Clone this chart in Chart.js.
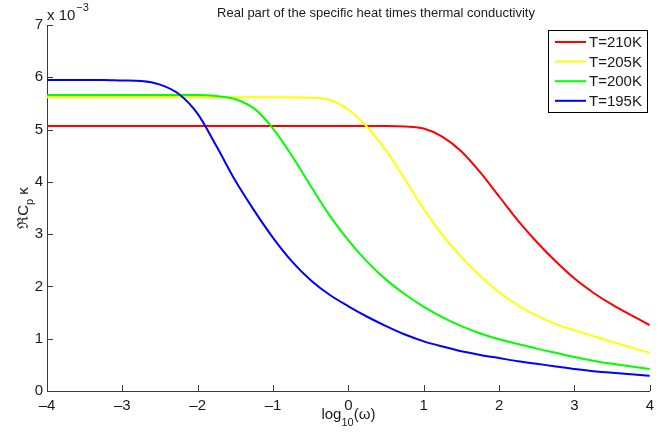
<!DOCTYPE html>
<html>
<head>
<meta charset="utf-8">
<script src="https://cdn.jsdelivr.net/npm/chart.js@4.4.0/dist/chart.umd.min.js"></script>
<style>
  html, body { margin: 0; padding: 0; background: #fff; }
</style>
</head>
<body>
<canvas id="c" width="660" height="435"></canvas>
<script>
// log10(omega) sample positions
var logOmega = [-4, -3.75, -3.5, -3.25, -3, -2.75, -2.5, -2.25, -2, -1.75, -1.5, -1.25, -1, -0.75, -0.5, -0.25,
                0, 0.25, 0.5, 0.75, 1, 1.25, 1.5, 1.75, 2, 2.25, 2.5, 2.75, 3, 3.25, 3.5, 3.75, 4];

// Re(Cp*kappa), in units of 1e-3
var cpk210 = [5.07, 5.07, 5.07, 5.07, 5.07, 5.07, 5.07, 5.07, 5.07, 5.07, 5.07, 5.07, 5.07, 5.07, 5.07, 5.07,
              5.07, 5.07, 5.07, 5.06, 5.02, 4.86, 4.58, 4.18, 3.72, 3.26, 2.85, 2.48, 2.15, 1.88, 1.65, 1.45, 1.26];
var cpk205 = [5.62, 5.62, 5.62, 5.62, 5.62, 5.62, 5.62, 5.62, 5.62, 5.62, 5.62, 5.62, 5.62, 5.62, 5.61, 5.57,
              5.38, 5.05, 4.60, 4.05, 3.48, 2.98, 2.56, 2.20, 1.89, 1.64, 1.44, 1.28, 1.16, 1.05, 0.94, 0.83, 0.73];
var cpk200 = [5.66, 5.66, 5.66, 5.66, 5.66, 5.66, 5.66, 5.66, 5.66, 5.64, 5.58, 5.40, 5.02, 4.50, 3.92, 3.36,
              2.88, 2.47, 2.13, 1.85, 1.61, 1.41, 1.24, 1.10, 0.99, 0.90, 0.81, 0.73, 0.65, 0.58, 0.52, 0.47, 0.42];
var cpk195 = [5.95, 5.95, 5.95, 5.95, 5.94, 5.93, 5.86, 5.68, 5.30, 4.68, 4.02, 3.45, 2.93, 2.48, 2.12, 1.84,
              1.62, 1.42, 1.24, 1.08, 0.95, 0.85, 0.76, 0.69, 0.63, 0.57, 0.52, 0.47, 0.42, 0.38, 0.35, 0.32, 0.29];

var seriesLabels = ['T=210K', 'T=205K', 'T=200K', 'T=195K'];
var seriesColors = ['#ff0000', '#ffff00', '#00ff00', '#0000ff'];
var seriesValues = [cpk210, cpk205, cpk200, cpk195];

var FONT = '"Liberation Sans", Arial, Helvetica, sans-serif';
var AXIS_COLOR = '#3a3a3a';

function toPoints(ys) {
  return ys.map(function (y, i) { return { x: logOmega[i], y: y }; });
}

var datasets = seriesValues.map(function (ys, i) {
  return {
    label: seriesLabels[i],
    data: toPoints(ys),
    borderColor: seriesColors[i],
    backgroundColor: seriesColors[i],
    borderWidth: 2,
    pointRadius: 0,
    cubicInterpolationMode: 'monotone',
    order: seriesValues.length - i   // later temperatures drawn on top
  };
});

// inward tick marks, the exponent note, titles and the boxed legend
var decorations = {
  id: 'decorations',
  afterDraw: function (chart) {
    var ctx = chart.ctx, area = chart.chartArea;
    var xs = chart.scales.x, ys = chart.scales.y;
    ctx.save();

    ctx.strokeStyle = AXIS_COLOR;
    ctx.lineWidth = 1;
    ctx.beginPath();
    xs.ticks.forEach(function (t) {
      var px = Math.round(xs.getPixelForValue(t.value)) + 0.5;
      ctx.moveTo(px, area.bottom);
      ctx.lineTo(px, area.bottom - 6);
    });
    ys.ticks.forEach(function (t) {
      var py = Math.round(ys.getPixelForValue(t.value)) + 0.5;
      ctx.moveTo(area.left, py);
      ctx.lineTo(area.left + 6, py);
    });
    ctx.stroke();

    ctx.fillStyle = '#1a1a1a';
    ctx.textBaseline = 'alphabetic';

    // x 10^-3
    ctx.textAlign = 'left';
    ctx.font = '15px ' + FONT;
    ctx.fillText('x 10', area.left, 20);
    var w = ctx.measureText('x 10').width;
    ctx.font = '11px ' + FONT;
    ctx.fillText('\u22123', area.left + w + 1, 11);

    // title
    ctx.textAlign = 'center';
    ctx.font = '13px ' + FONT;
    ctx.fillText('Real part of the specific heat times thermal conductivity', 376, 17);

    // x-axis label: log10(omega)
    ctx.textAlign = 'left';
    var big = '15px ' + FONT, small = '11px ' + FONT;
    ctx.font = big; var w1 = ctx.measureText('log').width;
    ctx.font = small; var w2 = ctx.measureText('10').width;
    ctx.font = big; var w3 = ctx.measureText('(\u03c9)').width;
    var x0 = (area.left + area.right) / 2 - (w1 + w2 + w3) / 2;
    ctx.font = big; ctx.fillText('log', x0, 419);
    ctx.font = small; ctx.fillText('10', x0 + w1, 426);
    ctx.font = big; ctx.fillText('(\u03c9)', x0 + w1 + w2, 419);

    // y-axis label: Re Cp kappa
    ctx.save();
    ctx.translate(28, 208);
    ctx.rotate(-Math.PI / 2);
    ctx.font = big; var a1 = ctx.measureText('\u211cC').width;
    ctx.font = small; var a2 = ctx.measureText('p').width;
    ctx.font = big; var a3 = ctx.measureText(' \u03ba').width;
    var s = -(a1 + a2 + a3) / 2;
    ctx.font = big; ctx.fillText('\u211cC', s, 0);
    ctx.font = small; ctx.fillText('p', s + a1, 5);
    ctx.font = big; ctx.fillText(' \u03ba', s + a1 + a2, 0);
    ctx.restore();

    // legend box
    var lx = 548.5, ly = 30.5, lw = 99, lh = 82;
    ctx.fillStyle = '#fff';
    ctx.fillRect(lx, ly, lw, lh);
    ctx.strokeStyle = '#000';
    ctx.lineWidth = 1;
    ctx.strokeRect(lx, ly, lw, lh);
    ctx.font = '15px ' + FONT;
    ctx.textBaseline = 'middle';
    chart.data.datasets.forEach(function (ds, i) {
      var yy = 42 + i * 19.6;
      ctx.strokeStyle = ds.borderColor;
      ctx.lineWidth = 2;
      ctx.beginPath();
      ctx.moveTo(555, yy);
      ctx.lineTo(586, yy);
      ctx.stroke();
      ctx.fillStyle = '#1a1a1a';
      ctx.fillText(ds.label, 589, yy + 1);
    });

    ctx.restore();
  }
};

new Chart(document.getElementById('c'), {
  type: 'line',
  data: { datasets: datasets },
  options: {
    responsive: false,
    animation: false,
    layout: { padding: { left: 0, top: 25, right: 4, bottom: 0 } },
    plugins: {
      legend: { display: false },
      tooltip: { enabled: false }
    },
    scales: {
      x: {
        type: 'linear',
        min: -4,
        max: 4,
        grid: { display: false, drawTicks: false },
        border: { display: true, color: AXIS_COLOR, width: 1 },
        ticks: {
          stepSize: 1,
          padding: 6,
          color: '#1a1a1a',
          font: { family: FONT, size: 15 },
          maxRotation: 0,
          callback: function (v) { return v < 0 ? '\u2013' + Math.abs(v) : String(v); }
        },
        afterFit: function (scale) { scale.height = 44; }
      },
      y: {
        type: 'linear',
        min: 0,
        max: 7,
        grid: { display: false, drawTicks: false },
        border: { display: true, color: AXIS_COLOR, width: 1 },
        ticks: {
          stepSize: 1,
          padding: 4,
          color: '#1a1a1a',
          font: { family: FONT, size: 15 }
        },
        afterFit: function (scale) { scale.width = 47; }
      }
    }
  },
  plugins: [decorations]
});
</script>
</body>
</html>
